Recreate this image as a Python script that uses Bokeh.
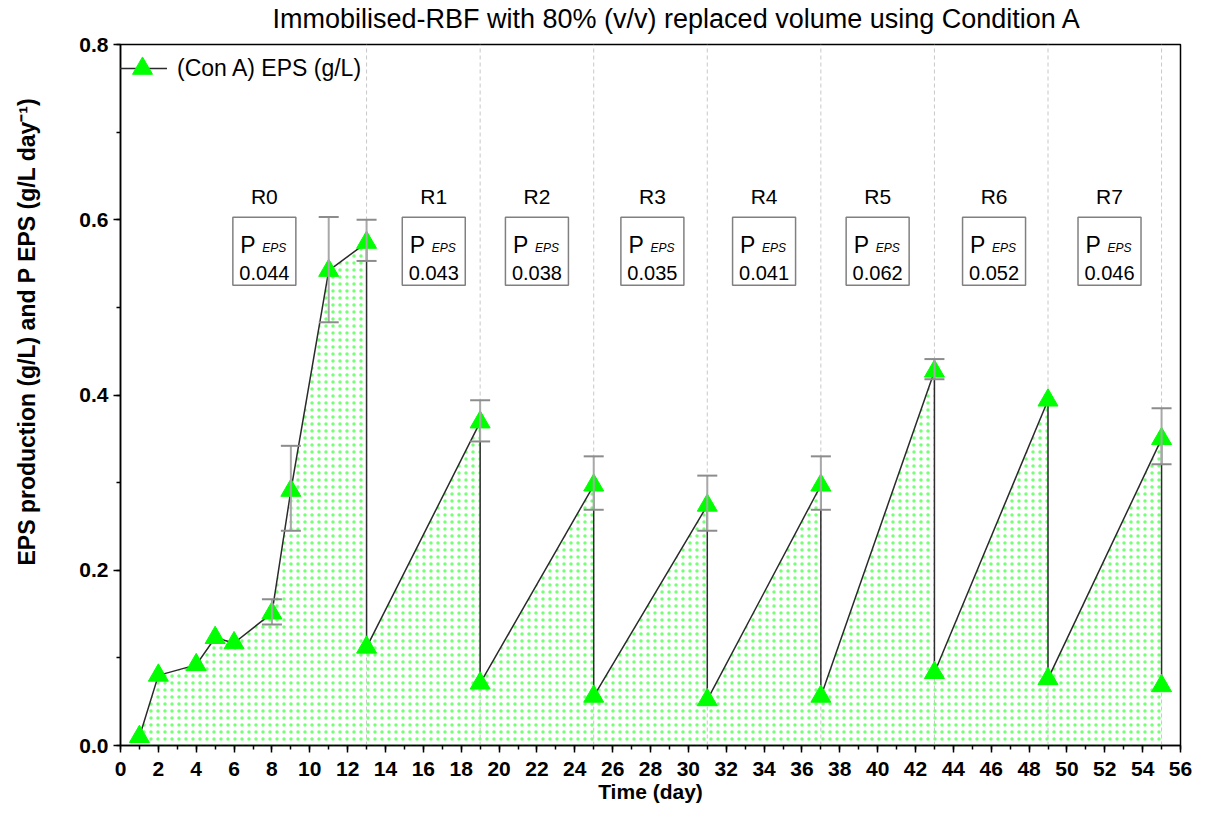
from bokeh.plotting import figure
from bokeh.models import (ColumnDataSource, Whisker, TeeHead, SingleIntervalTicker,
                          NumeralTickFormatter, Legend, LegendItem, Range1d, Title)
from bokeh.core.properties import value
from bokeh.embed import file_html
from bokeh.resources import INLINE

# ---- data ----
days = [1, 2, 4, 5, 6, 8, 9, 11, 13, 13, 19, 19, 25, 25, 31, 31, 37, 37, 43, 43, 49, 49, 55, 55]
eps = [0.010, 0.080, 0.092, 0.123, 0.117, 0.151, 0.291, 0.542, 0.574, 0.112,
       0.369, 0.071, 0.297, 0.056, 0.274, 0.052, 0.297, 0.056, 0.427, 0.083,
       0.394, 0.076, 0.350, 0.068]

err_days = [8, 9, 11, 13, 19, 25, 31, 37, 43, 55]
err_upper = [0.167, 0.342, 0.603, 0.600, 0.394, 0.330, 0.308, 0.330, 0.441, 0.385]
err_lower = [0.138, 0.245, 0.483, 0.553, 0.347, 0.269, 0.245, 0.269, 0.418, 0.321]

cycle_end = [13, 19, 25, 31, 37, 43, 49, 55]
cycle_labels = ["R0", "R1", "R2", "R3", "R4", "R5", "R6", "R7"]
p_eps = [0.044, 0.043, 0.038, 0.035, 0.041, 0.062, 0.052, 0.046]

# annotation placement (layout, not data)
box_x = [7.6, 16.55, 22.0, 28.1, 34.0, 40.0, 46.15, 52.25]

FONT = "Liberation Sans"

p = figure(width=1200, height=825, output_backend="svg", toolbar_location=None,
           x_range=Range1d(0, 56), y_range=Range1d(0, 0.8),
           min_border_left=120, min_border_right=20, min_border_top=44, min_border_bottom=80)

p.grid.visible = False
p.outline_line_color = "black"
p.outline_line_width = 1.5
p.background_fill_color = "white"
p.border_fill_color = "white"

# title (spacer panel between title and frame)
p.add_layout(Title(text=" ", text_font_size="7px", standoff=0), "above")
p.add_layout(Title(text="Immobilised-RBF with 80% (v/v) replaced volume using Condition A",
                   text_font=FONT, text_font_size="27px", text_font_style="normal",
                   text_color="black", align="left", offset=152, standoff=0,
                   vertical_align="top"), "above")

# dashed cycle separators
p.segment(x0=cycle_end, y0=[0] * len(cycle_end), x1=cycle_end, y1=[0.8] * len(cycle_end),
          line_color="#c8c8c8", line_dash="4 3", line_width=1)

# dotted area under the curve
p.varea(x=days, y1=[0] * len(days), y2=eps, fill_alpha=0,
        hatch_pattern="dot", hatch_color="#74ff74", hatch_scale=7, hatch_weight=1)

line_r = p.line(days, eps, line_color="#2b2b2b", line_width=1.5)
pts_r = p.scatter(days, eps, marker="triangle", size=20,
                  fill_color="#00ff00", line_color="#00ff00")

esrc = ColumnDataSource(dict(x=err_days, upper=err_upper, lower=err_lower))
wh = Whisker(base="x", upper="upper", lower="lower", source=esrc,
             line_color="#a8a8a8", line_width=2,
             upper_head=TeeHead(size=20, line_color="#8c8c8c", line_width=2),
             lower_head=TeeHead(size=20, line_color="#8c8c8c", line_width=2))
wh.level = "overlay"
p.add_layout(wh)

# productivity boxes
n = len(box_x)
bsrc = ColumnDataSource(dict(x=box_x, y=[0.564] * n, ly=[0.626] * n,
                             lab=cycle_labels, val=["%.3f" % v for v in p_eps],
                             P=["P"] * n, sub=["EPS"] * n))
p.rect(x="x", y="y", width=63, height=68, width_units="screen", height_units="screen",
       source=bsrc, fill_color="white", line_color="#808080", line_width=1.5)
p.text(x="x", y="ly", text="lab", source=bsrc, text_font=value(FONT), text_font_size="21px",
       text_align="center", text_baseline="middle", text_color="black")
p.text(x="x", y="y", text="P", source=bsrc, text_font=value(FONT), text_font_size="23px",
       text_align="left", text_baseline="alphabetic", x_offset=-24, y_offset=-6, text_color="black")
p.text(x="x", y="y", text="sub", source=bsrc, text_font=value(FONT), text_font_size="12px",
       text_font_style="italic", text_align="left", text_baseline="alphabetic",
       x_offset=-2, y_offset=-3, text_color="black")
p.text(x="x", y="y", text="val", source=bsrc, text_font=value(FONT), text_font_size="20px",
       text_align="center", text_baseline="alphabetic", x_offset=0, y_offset=22, text_color="black")

# axes
p.xaxis.ticker = SingleIntervalTicker(interval=2, num_minor_ticks=2)
p.yaxis.ticker = SingleIntervalTicker(interval=0.2, num_minor_ticks=2)
p.yaxis.formatter = NumeralTickFormatter(format="0.0")
for ax in (p.xaxis[0], p.yaxis[0]):
    ax.axis_line_color = "black"
    ax.axis_line_width = 1.5
    ax.major_tick_line_color = "black"
    ax.major_tick_line_width = 1.5
    ax.minor_tick_line_color = "black"
    ax.minor_tick_line_width = 1.5
    ax.major_tick_in = 0
    ax.major_tick_out = 7
    ax.minor_tick_in = 0
    ax.minor_tick_out = 4
    ax.major_label_text_font = FONT
    ax.major_label_text_font_style = "bold"
    ax.major_label_text_color = "black"
    ax.axis_label_text_font = FONT
    ax.axis_label_text_font_style = "bold"
    ax.axis_label_text_color = "black"
    ax.axis_label_text_font_size = "21px"

p.xaxis.major_label_text_font_size = "21px"
p.yaxis.major_label_text_font_size = "21px"
p.xaxis.major_label_standoff = 9
p.yaxis.major_label_standoff = 5
p.xaxis.axis_label = "Time (day)"
p.xaxis.axis_label_standoff = 1

# y axis title placed as a side panel so it can sit where the reference has it
p.add_layout(Title(text=" ", text_font_size="31px", standoff=0), "left")
p.add_layout(Title(text="EPS production (g/L) and P EPS (g/L day\u207b\u00b9)",
                   text_font=FONT, text_font_size="23px", text_font_style="bold",
                   text_color="black", align="left", offset=180, standoff=0), "left")

legend = Legend(items=[LegendItem(label="(Con A) EPS (g/L)", renderers=[line_r, pts_r])],
                location=(-3, 652), padding=0, margin=0, spacing=0,
                glyph_width=50, glyph_height=50, label_standoff=10,
                label_text_font=FONT, label_text_font_size="23px", label_text_color="black",
                background_fill_alpha=0, border_line_alpha=0)
p.add_layout(legend)

open("out.html", "w").write(file_html(p, INLINE))
